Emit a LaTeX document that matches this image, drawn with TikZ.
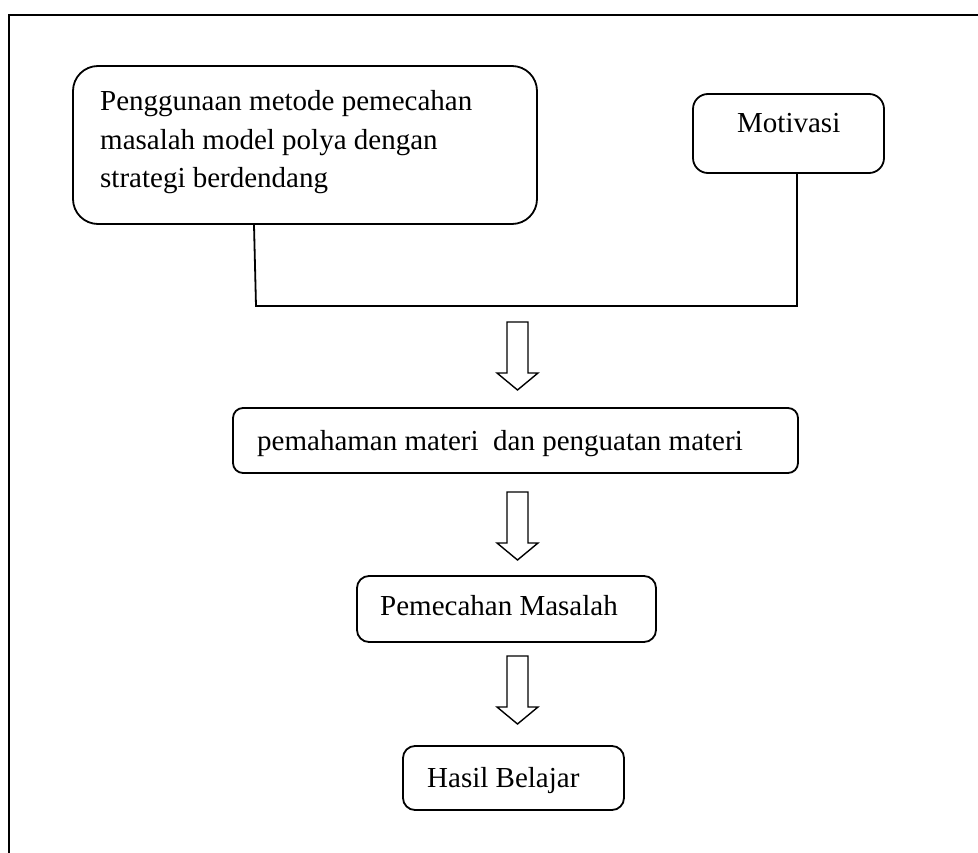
\documentclass[tikz,border=0pt]{standalone}
\usepackage{fontspec}
\setmainfont{Liberation Serif}
\begin{document}
\begin{tikzpicture}[x=1pt,y=-1pt,
  box/.style={draw,line width=1.8pt,inner sep=0pt},
  lbl/.style={anchor=base west,inner sep=0pt,font=\fontsize{29}{38}\selectfont},
  conn/.style={line width=1.8pt},
  blk/.style={draw,line width=1.4pt,fill=white,line join=miter}]
\useasboundingbox (0,0) rectangle (978,853);
% frame
\draw[line width=2pt] (9,853) -- (9,15) -- (978,15);
% boxes
\node[box,rounded corners=25pt,minimum width=464pt,minimum height=158pt] (b1) at (305,145) {};
\node[box,rounded corners=15pt,minimum width=191pt,minimum height=79pt] (mot) at (788.5,133.5) {};
\node[box,rounded corners=10pt,minimum width=565pt,minimum height=65pt] (b2) at (515.5,440.5) {};
\node[box,rounded corners=12pt,minimum width=299pt,minimum height=66pt] (b3) at (506.5,609) {};
\node[box,rounded corners=12pt,minimum width=221pt,minimum height=64pt] (b4) at (513.5,778) {};
% texts
\node[lbl] (t1a) at (100,111) {Penggunaan metode pemecahan};
\node[lbl] (t1b) at (100,150) {masalah model polya dengan};
\node[lbl] (t1c) at (100,188) {strategi berdendang};
\node[lbl] (tm) at (737,133) {Motivasi};
\node[lbl] (t2) at (257,450) {pemahaman materi\ \ dan penguatan materi};
\node[lbl] (t3) at (380,615) {Pemecahan Masalah};
\node[lbl] (t4) at (427,787) {Hasil Belajar};
% connector
\coordinate (L0) at (254,224);
\coordinate (L) at (256,306);
\coordinate (R) at (797,306);
\draw[conn] (b1.south -| L0) -- (L) -- (R) -- (R |- mot.south);
% block arrows
\newcommand{\blockarr}[1]{%
  \draw[blk] (507,#1) -- (528,#1) -- (528,#1+51) -- (538,#1+51) -- (517.5,#1+68)
    -- (497,#1+51) -- (507,#1+51) -- cycle;}
\coordinate (a1) at (517.5,322);
\coordinate (a2) at (517.5,492);
\coordinate (a3) at (517.5,656);
\blockarr{322}
\blockarr{492}
\blockarr{656}
\end{tikzpicture}
\end{document}
